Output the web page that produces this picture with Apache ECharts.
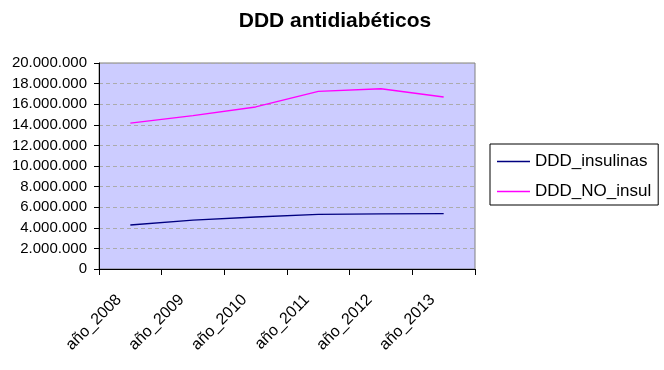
<!DOCTYPE html>
<html>
<head>
<meta charset="utf-8">
<script src="https://cdn.jsdelivr.net/npm/echarts@6/dist/echarts.min.js"></script>
<style>html,body{margin:0;padding:0;background:#fff}#c{width:664px;height:370px}</style>
</head>
<body>
<div id="c"></div>
<script>
const categories = ['año_2008','año_2009','año_2010','año_2011','año_2012','año_2013'];
const insulinas = [4270000, 4750000, 5050000, 5300000, 5350000, 5370000];
const noInsul = [14170000, 14900000, 15730000, 17250000, 17500000, 16700000];
const yTicks = {min: 0, max: 20000000, interval: 2000000};
const FONT = '"Liberation Sans", Arial, sans-serif';
function fmt(v){ return String(v).replace(/\B(?=(\d{3})+(?!\d))/g, '.'); }
const chart = echarts.init(document.getElementById('c'));
chart.setOption({
  animation: false,
  backgroundColor: '#ffffff',
  title: {
    text: 'DDD antidiabéticos', left: 330, top: 6, textAlign: 'center',
    textStyle: {fontFamily: FONT, fontWeight: 'bold', fontSize: 21, color: '#000'}
  },
  legend: {
    orient: 'vertical', left: 490, top: 144,
    icon: 'rect', itemWidth: 33, itemHeight: 1.3, itemGap: 13,
    padding: [9, 7, 5, 7],
    borderColor: '#000', borderWidth: 1,
    textStyle: {fontFamily: FONT, fontSize: 17, color: '#000'},
    data: ['DDD_insulinas', 'DDD_NO_insul']
  },
  grid: {
    left: 99, top: 63, width: 376, height: 206,
    show: true, backgroundColor: '#CCCCFF', borderColor: '#808080', borderWidth: 1,
    containLabel: false
  },
  xAxis: {
    type: 'category', data: categories, boundaryGap: true,
    axisLine: {lineStyle: {color: '#000', width: 1}},
    axisTick: {show: true, length: 6, lineStyle: {color: '#000'}},
    axisLabel: {rotate: 45, margin: 17, padding: [0, 16, 0, 0], interval: 0,
      fontFamily: FONT, fontSize: 16, color: '#000'},
    splitLine: {show: false}
  },
  yAxis: {
    type: 'value', min: yTicks.min, max: yTicks.max, interval: yTicks.interval,
    axisLine: {show: true, lineStyle: {color: '#000', width: 1}},
    axisTick: {show: true, length: 5, lineStyle: {color: '#000'}},
    axisLabel: {formatter: fmt, margin: 12, fontFamily: FONT, fontSize: 15, color: '#000'},
    splitLine: {show: true, lineStyle: {color: '#ababab', type: [4, 3], width: 1}}
  },
  series: [
    {name: 'DDD_insulinas', type: 'line', data: insulinas, symbol: 'none',
      lineStyle: {color: '#000080', width: 1.3}, itemStyle: {color: '#000080'}},
    {name: 'DDD_NO_insul', type: 'line', data: noInsul, symbol: 'none',
      lineStyle: {color: '#FF00FF', width: 1.3}, itemStyle: {color: '#FF00FF'}}
  ]
});
</script>
</body>
</html>
